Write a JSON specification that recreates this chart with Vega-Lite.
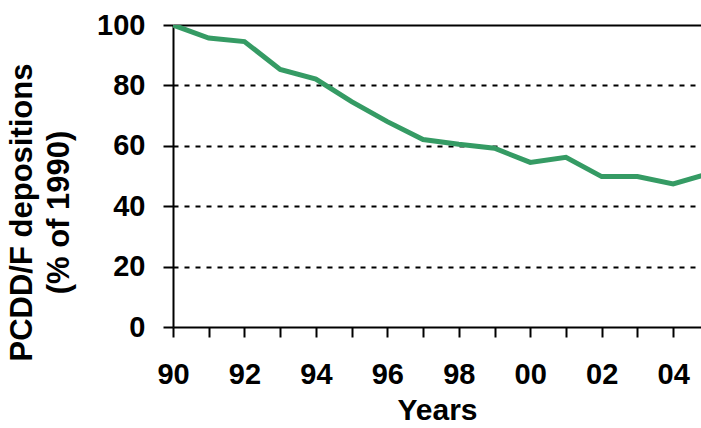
{
  "$schema": "https://vega.github.io/schema/vega-lite/v6.json",
  "autosize": {"type": "none"},
  "padding": {"left": 173, "top": 25, "right": 0, "bottom": 101},
  "width": 528,
  "height": 302,
  "background": "white",
  "config": {
    "view": {"stroke": null},
    "font": "Liberation Sans",
    "axis": {
      "labelFont": "Liberation Sans",
      "titleFont": "Liberation Sans",
      "labelFontWeight": "bold",
      "titleFontWeight": "bold",
      "labelColor": "black",
      "titleColor": "black",
      "labelFontSize": 29,
      "titleFontSize": 30,
      "domainColor": "black",
      "domainWidth": 2,
      "tickColor": "black",
      "tickWidth": 2,
      "tickSize": 10
    }
  },
  "data": {
    "values": [
      {"year": 1990, "value": 100},
      {"year": 1991, "value": 95.7},
      {"year": 1992, "value": 94.5},
      {"year": 1993, "value": 85.3},
      {"year": 1994, "value": 82.1},
      {"year": 1995, "value": 74.6},
      {"year": 1996, "value": 68.0},
      {"year": 1997, "value": 62.1},
      {"year": 1998, "value": 60.5},
      {"year": 1999, "value": 59.2},
      {"year": 2000, "value": 54.5},
      {"year": 2001, "value": 56.2},
      {"year": 2002, "value": 49.8},
      {"year": 2003, "value": 49.8},
      {"year": 2004, "value": 47.4},
      {"year": 2005, "value": 50.8}
    ]
  },
  "mark": {"type": "line", "color": "#359b64", "strokeWidth": 5, "clip": true},
  "encoding": {
    "x": {
      "field": "year",
      "type": "quantitative",
      "scale": {"domain": [1990, 2004.78], "nice": false, "zero": false},
      "axis": {
        "title": "Years",
        "values": [1990, 1991, 1992, 1993, 1994, 1995, 1996, 1997, 1998, 1999, 2000, 2001, 2002, 2003, 2004],
        "labelExpr": "datum.value % 2 === 0 ? substring(toString(datum.value), 2, 4) : ''",
        "labelPadding": 23,
        "titlePadding": 6,
        "grid": false,
        "labelFlush": false,
        "labelOverlap": false
      }
    },
    "y": {
      "field": "value",
      "type": "quantitative",
      "scale": {"domain": [0, 100], "nice": false},
      "axis": {
        "title": ["PCDD/F depositions", "(% of 1990)"],
        "titleFontSize": 31,
        "titleLineHeight": 37,
        "values": [0, 20, 40, 60, 80, 100],
        "labelPadding": 18,
        "titlePadding": 21,
        "titleY": 187,
        "grid": true,
        "gridColor": "black",
        "gridDash": {"condition": {"test": "datum.value === 100", "value": []}, "value": [5, 6]},
        "gridWidth": 2,
        "gridOpacity": {"condition": {"test": "datum.value === 0", "value": 0}, "value": 1}
      }
    }
  }
}
